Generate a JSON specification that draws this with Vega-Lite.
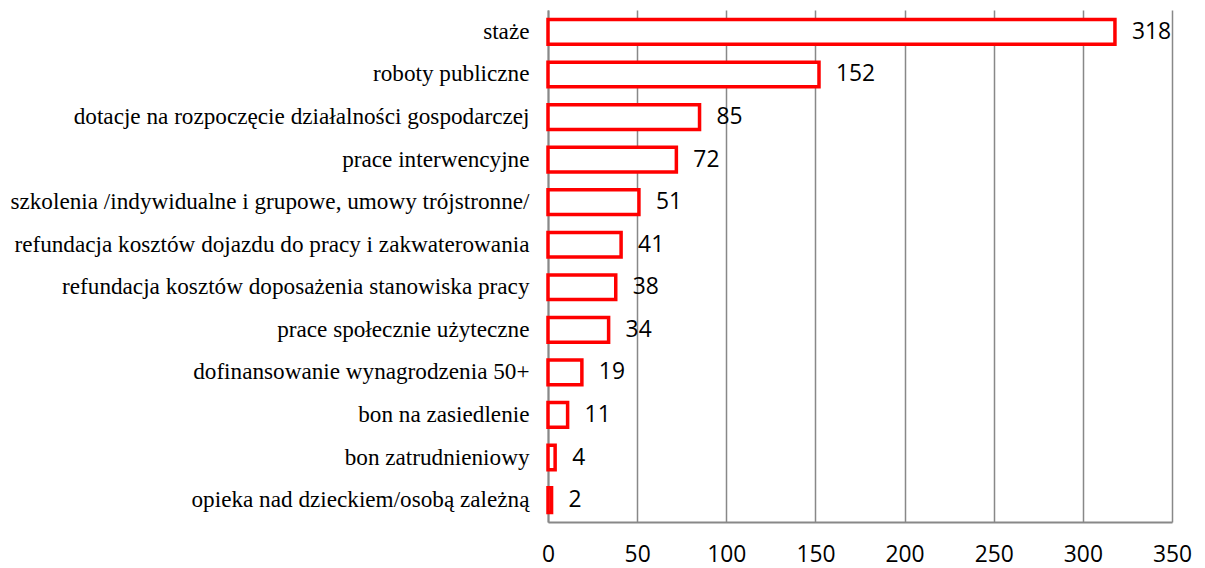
{
  "$schema": "https://vega.github.io/schema/vega-lite/v6.json",
  "autosize": "none",
  "width": 624,
  "height": 512,
  "padding": {"left": 548, "top": 10, "right": 33, "bottom": 46},
  "background": "white",
  "config": {"view": {"stroke": null}},
  "data": {"values": [
    {"kategoria": "staże", "liczba": 318},
    {"kategoria": "roboty publiczne", "liczba": 152},
    {"kategoria": "dotacje na rozpoczęcie działalności gospodarczej", "liczba": 85},
    {"kategoria": "prace interwencyjne", "liczba": 72},
    {"kategoria": "szkolenia /indywidualne i grupowe, umowy trójstronne/", "liczba": 51},
    {"kategoria": "refundacja kosztów dojazdu do pracy i zakwaterowania", "liczba": 41},
    {"kategoria": "refundacja kosztów doposażenia stanowiska pracy", "liczba": 38},
    {"kategoria": "prace społecznie użyteczne", "liczba": 34},
    {"kategoria": "dofinansowanie wynagrodzenia 50+", "liczba": 19},
    {"kategoria": "bon na  zasiedlenie", "liczba": 11},
    {"kategoria": "bon zatrudnieniowy", "liczba": 4},
    {"kategoria": "opieka nad dzieckiem/osobą zależną", "liczba": 2}
  ]},
  "encoding": {
    "y": {
      "field": "kategoria", "type": "nominal", "sort": null,
      "scale": {"paddingInner": 0.42, "paddingOuter": 0.225},
      "axis": {
        "title": null, "ticks": false, "domain": true, "domainColor": "#888888", "domainWidth": 2,
        "labelFont": "Liberation Serif", "labelFontSize": 23.2, "labelColor": "#000000",
        "labelPadding": 19, "labelLimit": 600
      }
    },
    "x": {
      "field": "liczba", "type": "quantitative",
      "scale": {"domain": [0, 350], "nice": false},
      "axis": {
        "title": null, "values": [0, 50, 100, 150, 200, 250, 300, 350],
        "ticks": false, "grid": true, "gridColor": "#888888", "gridWidth": 1.5,
        "domain": true, "domainColor": "#888888", "domainWidth": 2,
        "labelFont": "Open Sans", "labelFontSize": 22.8, "labelColor": "#000000",
        "labelPadding": 21, "labelFlush": false
      }
    }
  },
  "layer": [
    {"mark": {"type": "bar", "fill": "white", "stroke": "#ff0000", "strokeWidth": 3.5}},
    {"mark": {"type": "text", "align": "left", "baseline": "middle", "dx": 17, "font": "Open Sans", "fontSize": 22.8, "color": "#000000"},
     "encoding": {"text": {"field": "liczba", "type": "quantitative"}}}
  ]
}
